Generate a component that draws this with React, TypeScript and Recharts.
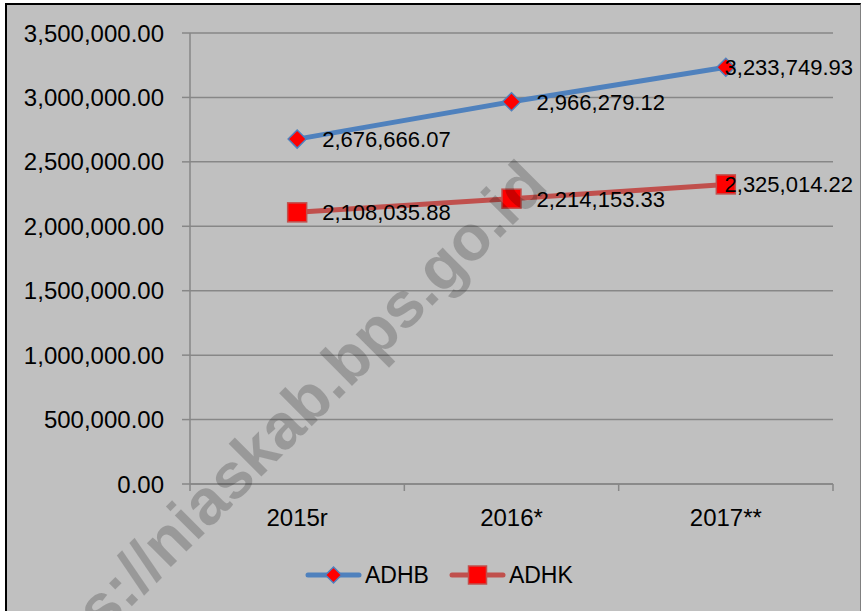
import React from 'react';
import { LineChart, Line, XAxis, YAxis, CartesianGrid, Legend, LabelList } from 'recharts';

const categories = ['2015r', '2016*', '2017**'];
const adhbValues = [2676666.07, 2966279.12, 3233749.93];
const adhkValues = [2108035.88, 2214153.33, 2325014.22];
const yTicks = [0, 500000, 1000000, 1500000, 2000000, 2500000, 3000000, 3500000];

const seriesInfo = [
  { key: 'ADHB', color: '#4f81bd', shape: 'diamond' },
  { key: 'ADHK', color: '#c0504d', shape: 'square' },
];

const data = categories.map((c, i) => ({ cat: c, ADHB: adhbValues[i], ADHK: adhkValues[i] }));

const W = 861;
const H = 611;
const FONT = '"Liberation Sans", Arial, sans-serif';
const GRID = '#878787';
const BAND = (833 - 190) / 3;

const fmt = new Intl.NumberFormat('en-US', { minimumFractionDigits: 2, maximumFractionDigits: 2 });

const diamondPath = (cx: number, cy: number, r: number) =>
  `M${cx},${cy - r}L${cx + r},${cy}L${cx},${cy + r}L${cx - r},${cy}Z`;

const DiamondDot = (props: any) => {
  const { cx, cy, index } = props;
  if (cx == null || cy == null) return <g key={`dd${index}`} />;
  return <path key={`dd${index}`} d={diamondPath(cx, cy, 9)} fill="#ff0000" stroke="#4f81bd" strokeWidth={1.5} />;
};

const SquareDot = (props: any) => {
  const { cx, cy, index } = props;
  if (cx == null || cy == null) return <g key={`sd${index}`} />;
  return <rect key={`sd${index}`} x={cx - 9.5} y={cy - 9.5} width={19} height={19} fill="#ff0000" stroke="#c0504d" strokeWidth={1.5} />;
};

const renderLabel = (props: any) => {
  const { x, y, value, index } = props;
  const est = 5.84 * 22;
  let tx = x + 25;
  let anchor: 'start' | 'end' = 'start';
  if (tx + est > 853) {
    tx = 853;
    anchor = 'end';
  }
  return (
    <text key={`l${index}`} x={tx} y={y} dy="0.36em" textAnchor={anchor} fontSize={22} fontFamily={FONT} fill="#000">
      {fmt.format(value)}
    </text>
  );
};

const XTick = (props: any) => {
  const { x, y, payload, index } = props;
  const half = BAND / 2;
  return (
    <g>
      <line x1={x - half} x2={x - half} y1={y} y2={y + 7} stroke={GRID} strokeWidth={1.5} />
      {index === categories.length - 1 && (
        <line x1={x + half} x2={x + half} y1={y} y2={y + 7} stroke={GRID} strokeWidth={1.5} />
      )}
      <text x={x} y={y + 42} textAnchor="middle" fontSize={24} fontFamily={FONT} fill="#000">
        {payload.value}
      </text>
    </g>
  );
};

const LegendContent = () => (
  <div style={{ display: 'flex', alignItems: 'center', height: 40, paddingLeft: 305, fontFamily: FONT, fontSize: 23, color: '#000' }}>
    {seriesInfo.map((s, i) => (
      <div key={s.key} style={{ display: 'flex', alignItems: 'center', marginRight: i === 0 ? 20 : 0 }}>
        <svg width={57} height={24} style={{ display: 'block' }}>
          <line x1={3} x2={54} y1={12} y2={12} stroke={s.color} strokeWidth={5} strokeLinecap="round" />
          {s.shape === 'diamond' ? (
            <path d={diamondPath(28.5, 12, 8)} fill="#ff0000" stroke={s.color} strokeWidth={1.5} />
          ) : (
            <rect x={19.5} y={3} width={18} height={18} fill="#ff0000" stroke={s.color} strokeWidth={1.5} />
          )}
        </svg>
        <span style={{ marginLeft: 3, lineHeight: '24px' }}>{s.key}</span>
      </div>
    ))}
  </div>
);

export default function App() {
  return (
    <div style={{ position: 'absolute', left: 0, top: 0, width: W, height: H, background: '#fff', fontFamily: FONT, overflow: 'hidden' }}>
      <div
        style={{
          position: 'absolute',
          left: 5,
          top: 3,
          width: W - 5,
          height: H - 3,
          boxSizing: 'border-box',
          background: '#c0c0c0',
          borderLeft: '2px solid #000',
          borderTop: '2px solid #000',
          borderRight: '1px solid #808080',
        }}
      />
      <div style={{ position: 'absolute', left: 0, top: 0 }}>
        <LineChart width={W} height={H} data={data} margin={{ top: 33, right: 28, left: 0, bottom: 16 }}>
          <CartesianGrid vertical={false} stroke={GRID} strokeWidth={1.5} />
          <XAxis
            dataKey="cat"
            padding={{ left: BAND / 2, right: BAND / 2 }}
            tickLine={false}
            tickSize={0}
            tickMargin={0}
            axisLine={{ stroke: GRID, strokeWidth: 1.5 }}
            tick={<XTick />}
            interval={0}
            height={71}
          />
          <YAxis
            domain={[0, 3500000]}
            ticks={yTicks}
            width={190}
            tickSize={8}
            tickMargin={18}
            tickFormatter={(v: number) => fmt.format(v)}
            tick={{ fontSize: 24, fill: '#000', fontFamily: FONT }}
            axisLine={{ stroke: GRID, strokeWidth: 1.5 }}
            tickLine={{ stroke: GRID, strokeWidth: 1.5 }}
            interval={0}
          />
          <Legend verticalAlign="bottom" content={() => <LegendContent />} />
          <Line
            dataKey="ADHB"
            stroke="#4f81bd"
            strokeWidth={5}
            dot={DiamondDot}
            activeDot={false}
            isAnimationActive={false}
          >
            <LabelList dataKey="ADHB" content={renderLabel} />
          </Line>
          <Line
            dataKey="ADHK"
            stroke="#c0504d"
            strokeWidth={5}
            dot={SquareDot}
            activeDot={false}
            isAnimationActive={false}
          >
            <LabelList dataKey="ADHK" content={renderLabel} />
          </Line>
        </LineChart>
      </div>
      <svg width={W} height={H} style={{ position: 'absolute', left: 0, top: 0, pointerEvents: 'none' }}>
        <text
          x={550}
          y={188}
          textAnchor="end"
          fontSize={64}
          fontWeight="bold"
          fontFamily={FONT}
          fill="#000"
          fillOpacity={0.2}
          transform="rotate(-45 550 188)"
        >
          https://niaskab.bps.go.id
        </text>
      </svg>
    </div>
  );
}
